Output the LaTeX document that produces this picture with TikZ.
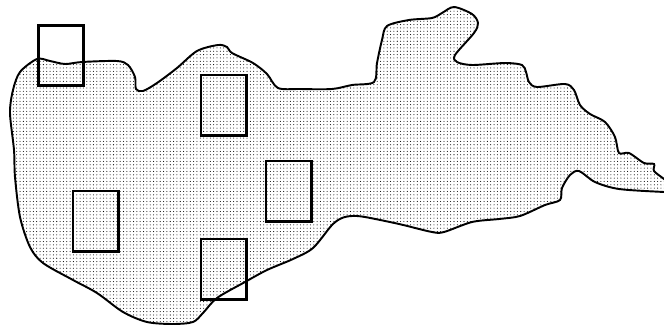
\documentclass[tikz,border=0pt]{standalone}
\usepackage{tikz}
\usetikzlibrary{patterns}
\pgfdeclarepatternformonly{finedots}{\pgfqpoint{-0.5pt}{-0.5pt}}{\pgfqpoint{0.5pt}{0.5pt}}{\pgfqpoint{1.9pt}{1.9pt}}{%
    \pgfpathcircle{\pgfqpoint{0pt}{0pt}}{0.3pt}
    \pgfusepath{fill}
}
\tikzset{
    sitebox/.style={draw,line width=1.6pt,outer sep=0pt,minimum width=0.905cm,minimum height=1.205cm,inner sep=0pt,anchor=north west},
}
\begin{document}
\begin{tikzpicture}[x=0.02cm,y=-0.02cm]
    % page frame
    \useasboundingbox (0,0) rectangle (664,325);
    \begin{scope}
    \clip (0,0) rectangle (664,325);
    % lake outline
    \draw[line width=1.1pt,pattern=finedots] plot[smooth cycle,tension=0.5] coordinates {
        (10,113) (13,90) (20,72) (37,59) (50,61) (65,64) (82,62) (117,61) (128,65) (135,77) (136,89)
        (143,91) (157,83) (177,68) (197,51) (218,45) (227,47) (232,53) (253,63) (267,74) (278,88)
        (300,89) (332,89) (352,85) (374,82) (377,63) (382,40) (387,26) (409,20) (432,18) (442,13)
        (454,7) (472,14) (478,23) (474,33) (455,55) (457,62) (472,65) (505,63) (522,65) (526,72)
        (529,82) (537,87) (565,84) (574,90) (580,105) (590,114) (605,122) (615,137) (619,153)
        (629,153) (644,163) (654,164) (654,171) (664,179) (672,186) (672,192) (664,192) (619,189) (595,182)
        (579,171) (570,175) (562,188) (560,200) (545,205) (520,216) (499,219) (472,222) (444,232)
        (432,232) (399,224) (365,217) (352,216) (342,218) (332,225) (313,248) (293,259) (267,270)
        (245,282) (217,298) (203,313) (193,322) (173,324) (147,322) (123,312) (97,293) (73,280)
        (43,263) (30,247) (20,217) (15,177) (14,150)
    };
    \end{scope}
    % sample boxes
    \node[sitebox] (boxa) at (38.5,25.3) {};
    \node[sitebox] (boxb) at (201,75) {};
    \node[sitebox] (boxc) at (266,161) {};
    \node[sitebox] (boxd) at (73,191) {};
    \node[sitebox] (boxe) at (201,239) {};
\end{tikzpicture}
\end{document}
